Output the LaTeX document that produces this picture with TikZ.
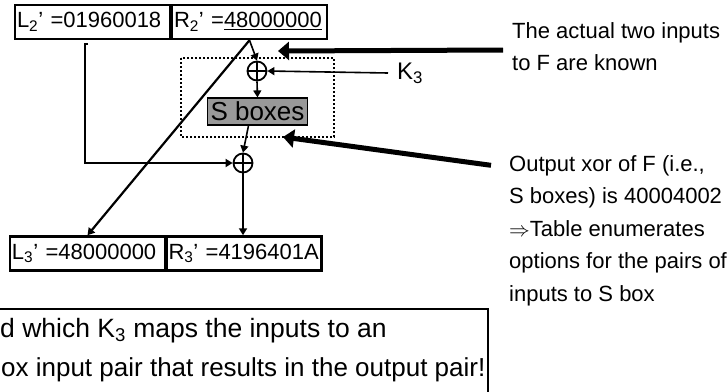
\documentclass[tikz,border=0pt]{standalone}
\usepackage{fontspec}
\setmainfont{Liberation Sans}
\usetikzlibrary{arrows.meta}
\definecolor{boxgray}{RGB}{153,153,153}

\tikzset{
  regbox/.style={draw, line width=2.5pt, minimum height=34pt, text width=151pt,
    inner xsep=2pt, inner ysep=0pt, align=left, font=\fontsize{22}{26}\selectfont},
  xorgate/.style={draw, circle, line width=1.8pt, minimum size=19pt, inner sep=0pt,
    path picture={\draw[line width=1.6pt]
      (path picture bounding box.north) -- (path picture bounding box.south)
      (path picture bounding box.west) -- (path picture bounding box.east);}},
  thinarrow/.style={line width=1.6pt, -{Triangle[length=7pt,width=8pt]}},
  fatarrow/.style={line width=5pt, -{Triangle[length=11pt,width=18pt]}},
  note/.style={font=\fontsize{22}{26}\selectfont, anchor=base west, inner sep=0pt},
}

\begin{document}
\begin{tikzpicture}[x=1pt, y=-1pt]
  \useasboundingbox (0,0) rectangle (727,391);
  \clip (0,0) rectangle (727,391);

  % Registers
  \node[regbox] (l2) at (92.5,22) {L\textsubscript{2}’ =01960018};
  \node[regbox] (r2) at (249.5,22) {R\textsubscript{2}’ =\underline{48000000}};
  \node[regbox] (l3) at (87.5,253.5) {L\textsubscript{3}’ =48000000};
  \node[regbox] (r3) at (244,253.5) {R\textsubscript{3}’ =4196401A};

  % F function
  \draw[dotted, line width=2pt] (181,58) rectangle (334,137);
  \node[xorgate] (x1) at (257,71) {};
  \node[draw, fill=boxgray, line width=1.2pt, minimum width=100pt, minimum height=27pt,
    inner sep=0pt, font=\fontsize{26}{30}\selectfont] (sb) at (257.5,111.5) {S boxes};
  \node[xorgate] (x2) at (243,163) {};
  \node[note, anchor=west, font=\fontsize{24}{28}\selectfont] (k3) at (397,73) {K\textsubscript{3}};

  \draw[thinarrow] (r2.south) -- (x1.north);
  \draw[thinarrow] (x1.south) -- (sb.north);
  \draw[thinarrow] ([xshift=-9pt]sb.south) -- (x2.north);
  \draw[thinarrow] ([xshift=-9pt]k3.west) -- (x1.east);
  \draw[thinarrow, line width=2.2pt] (r2.south) -- (l3.north);
  \coordinate (ltap) at (88,44);
  \draw[thinarrow, line width=2.6pt] (ltap) -- ++(-3,0) |- (x2.west);
  \draw[thinarrow, line width=2.6pt] (x2.south) -- (x2.south |- r3.north);

  % Notes
  \foreach \i/\txt in {1/{The actual two inputs}, 2/{to F are known}}{
    \pgfmathsetmacro\ypos{38 + (\i-1)*32.5}
    \node[note] (a\i) at (512,\ypos) {\txt};
  }
  \foreach \i/\txt in {
    1/{Output xor of F (i.e.,},
    2/{S boxes) is 40004002},
    3/{$\Rightarrow$Table enumerates},
    4/{options for the pairs of},
    5/{inputs to S box}
  }{
    \pgfmathsetmacro\ypos{171 + (\i-1)*32.5}
    \node[note] (b\i) at (509,\ypos) {\txt};
  }
  \coordinate (taila) at (503,50);
  \coordinate (tipa) at (278,51);
  \coordinate (tipb) at (283,137);
  \draw[fatarrow] (taila) -- (tipa);
  \draw[fatarrow] ([xshift=-18pt]b1.west) -- (tipb);

  % Question box
  \draw[line width=1.5pt] (-5,309) -- (488,309) -- (488,400);
  \node[note, font=\fontsize{26.5}{30}\selectfont] (q1) at (0,337)
    {d which K\textsubscript{3} maps the inputs to an};
  \node[note, font=\fontsize{26}{30}\selectfont] (q2) at (1,376)
    {ox input pair that results in the output pair!};
\end{tikzpicture}
\end{document}
